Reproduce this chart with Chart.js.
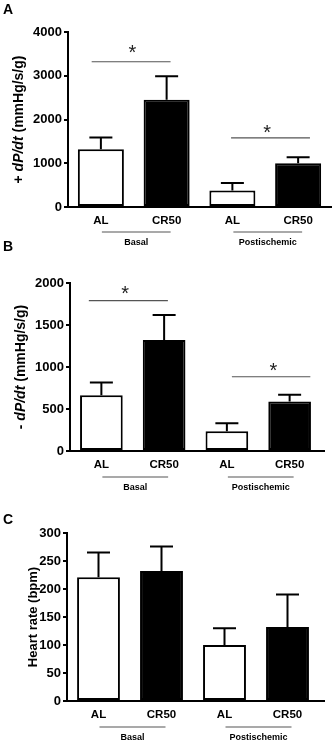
<!DOCTYPE html>
<html>
<head>
<meta charset="utf-8">
<script src="https://cdn.jsdelivr.net/npm/chart.js@4.4.1/dist/chart.umd.min.js"></script>
<style>
  html, body { margin: 0; padding: 0; background: #fff; width: 333px; height: 742px; overflow: hidden; }
  .panel { position: absolute; left: 0; width: 333px; }
  .letter { position: absolute; left: 3px; z-index: 2; font: bold 14px 'Liberation Sans', Arial, sans-serif; color: #000; }
  canvas { display: block; }
</style>
</head>
<body>
<div class="letter" style="top:1px">A</div>
<div class="letter" style="top:238px">B</div>
<div class="letter" style="top:511px">C</div>
<div class="panel" style="top:0;height:250px"><canvas id="chartA" width="333" height="250"></canvas></div>
<div class="panel" style="top:250px;height:240px"><canvas id="chartB" width="333" height="240"></canvas></div>
<div class="panel" style="top:490px;height:252px"><canvas id="chartC" width="333" height="252"></canvas></div>
<script>
// values (mean and SEM, upward error bars only)
const categories = ['AL', 'CR50', 'AL', 'CR50'];
const groupNames = ['Basal', 'Postischemic'];
const groupSpans = [[0, 1], [2, 3]];

const plusMeans = [1320, 2450, 380, 1000];
const plusSem = [270, 540, 170, 140];
const plusSigLevels = [3320, 1580];
const plusSigSpans = [[-0.14, 1.06], [1.98, 3.18]];
const plusStars = [[0.48, 3650], [2.53, 1830]];

const minusMeans = [665, 1320, 235, 590];
const minusSem = [150, 300, 95, 80];
const minusSigLevels = [1790, 884];
const minusSigSpans = [[-0.2, 1.06], [2.08, 3.33]];
const minusStars = [[0.38, 1940], [2.74, 1024]];

const hrMeans = [221, 232, 100, 132];
const hrSem = [44, 44, 30, 58];

const FONT = "'Liberation Sans', Arial, sans-serif";
const barFill = ['#ffffff', '#000000', '#ffffff', '#000000'];
const STAR_SIZE = 20;

// error bars, significance lines, group labels, axis title
const extras = {
  id: 'extras',
  afterDatasetsDraw(chart, args, opts) {
    const ctx = chart.ctx;
    const x = chart.scales.x, y = chart.scales.y;
    const meta = chart.getDatasetMeta(0);
    ctx.save();
    ctx.strokeStyle = '#000';
    ctx.lineWidth = 2;
    meta.data.forEach((bar, i) => {
      const top = y.getPixelForValue(opts.means[i] + opts.sem[i]);
      ctx.beginPath();
      ctx.moveTo(bar.x, bar.y);
      ctx.lineTo(bar.x, top);
      ctx.moveTo(bar.x - 11.5, top);
      ctx.lineTo(bar.x + 11.5, top);
      ctx.stroke();
    });
    // significance
    ctx.strokeStyle = '#555';
    ctx.lineWidth = 1.2;
    (opts.sigLevels || []).forEach((lvl, k) => {
      const py = y.getPixelForValue(lvl);
      ctx.beginPath();
      ctx.moveTo(x.getPixelForValue(opts.sigSpans[k][0]), py);
      ctx.lineTo(x.getPixelForValue(opts.sigSpans[k][1]), py);
      ctx.stroke();
    });
    ctx.fillStyle = '#222';
    ctx.font = STAR_SIZE + 'px ' + FONT;
    ctx.textAlign = 'center';
    ctx.textBaseline = 'alphabetic';
    (opts.stars || []).forEach(s => {
      ctx.fillText('*', x.getPixelForValue(s[0]), y.getPixelForValue(s[1]) + STAR_SIZE * 0.58);
    });
    ctx.restore();
  },
  afterDraw(chart, args, opts) {
    const ctx = chart.ctx;
    const x = chart.scales.x;
    const area = chart.chartArea;
    ctx.save();
    // x axis line runs past the last bar
    ctx.strokeStyle = '#000';
    ctx.lineWidth = 2;
    ctx.beginPath();
    ctx.moveTo(area.right - 1, area.bottom);
    ctx.lineTo(opts.axisEnd, area.bottom);
    ctx.stroke();
    // group lines + names
    ctx.strokeStyle = '#555';
    ctx.lineWidth = 1.2;
    ctx.fillStyle = '#000';
    ctx.font = 'bold 9px ' + FONT;
    ctx.textAlign = 'center';
    ctx.textBaseline = 'middle';
    groupSpans.forEach((sp, g) => {
      const x0 = x.getPixelForValue(sp[0]) + 1;
      const x1 = x.getPixelForValue(sp[1]) + 4;
      const ly = area.bottom + opts.groupLineGap;
      ctx.beginPath();
      ctx.moveTo(x0, ly);
      ctx.lineTo(x1, ly);
      ctx.stroke();
      ctx.fillText(groupNames[g], (x0 + x1) / 2, ly + 11);
    });
    // rotated y title with italic parts
    const cy = (area.top + area.bottom) / 2;
    ctx.translate(opts.titleX, cy);
    ctx.rotate(-Math.PI / 2);
    ctx.textBaseline = 'middle';
    ctx.textAlign = 'left';
    const fontFor = it => (it ? 'italic bold ' : 'bold ') + opts.titleSize + 'px ' + FONT;
    let total = 0;
    opts.title.forEach(p => { ctx.font = fontFor(p[1]); total += ctx.measureText(p[0]).width; });
    let px = -total / 2;
    opts.title.forEach(p => {
      ctx.font = fontFor(p[1]);
      ctx.fillText(p[0], px, 0);
      px += ctx.measureText(p[0]).width;
    });
    ctx.restore();
  }
};

function makePanel(id, cfg) {
  const canvas = document.getElementById(id);
  return new Chart(canvas.getContext('2d'), {
    type: 'bar',
    data: {
      labels: categories,
      datasets: [{
        data: cfg.means,
        backgroundColor: barFill,
        borderColor: '#000',
        borderWidth: 2,
        borderSkipped: false,
        categoryPercentage: 1,
        barPercentage: cfg.barPct
      }]
    },
    options: {
      responsive: false,
      animation: false,
      events: [],
      layout: { padding: { top: cfg.top, right: canvas.width - cfg.right, bottom: 0, left: 0 } },
      plugins: {
        legend: { display: false },
        tooltip: { enabled: false },
        extras: {
          means: cfg.means, sem: cfg.sem,
          sigLevels: cfg.sigLevels, sigSpans: cfg.sigSpans, stars: cfg.stars,
          axisEnd: cfg.axisEnd, groupLineGap: cfg.groupLineGap,
          titleX: cfg.titleX, titleSize: cfg.titleSize, title: cfg.title
        }
      },
      scales: {
        x: {
          afterFit: s => { s.height = canvas.height - cfg.bottom; },
          grid: { display: true, drawOnChartArea: false, drawTicks: false },
          border: { display: true, color: '#000', width: 2 },
          ticks: { color: '#000', padding: 7, font: { family: FONT, size: 11.5, weight: 'bold' } }
        },
        y: {
          min: 0, max: cfg.max,
          afterFit: s => { s.width = cfg.left; },
          grid: { display: true, drawOnChartArea: false, drawTicks: true, tickLength: 4, color: '#000', lineWidth: 2 },
          border: { display: true, color: '#000', width: 2 },
          ticks: {
            stepSize: cfg.step, color: '#000', padding: 2,
            font: { family: FONT, size: 13, weight: 'bold' },
            callback: v => String(v)
          }
        }
      }
    },
    plugins: [extras]
  });
}

makePanel('chartA', {
  means: plusMeans, sem: plusSem, max: 4000, step: 1000,
  sigLevels: plusSigLevels, sigSpans: plusSigSpans, stars: plusStars,
  left: 68, top: 32, right: 331, bottom: 207, axisEnd: 332, barPct: 0.7,
  groupLineGap: 25, titleX: 19, titleSize: 14,
  title: [['+ ', false], ['dP/dt', true], [' (mmHg/s/g)', false]]
});

makePanel('chartB', {
  means: minusMeans, sem: minusSem, max: 2000, step: 500,
  sigLevels: minusSigLevels, sigSpans: minusSigSpans, stars: minusStars,
  left: 70, top: 33, right: 321, bottom: 201, axisEnd: 325, barPct: 0.68,
  groupLineGap: 26, titleX: 21, titleSize: 14,
  title: [['- ', false], ['dP/dt', true], [' (mmHg/s/g)', false]]
});

makePanel('chartC', {
  means: hrMeans, sem: hrSem, max: 300, step: 50,
  left: 67, top: 43, right: 319, bottom: 211, axisEnd: 325, barPct: 0.68,
  groupLineGap: 26, titleX: 33, titleSize: 13,
  title: [['Heart rate (bpm)', false]]
});
</script>
</body>
</html>
